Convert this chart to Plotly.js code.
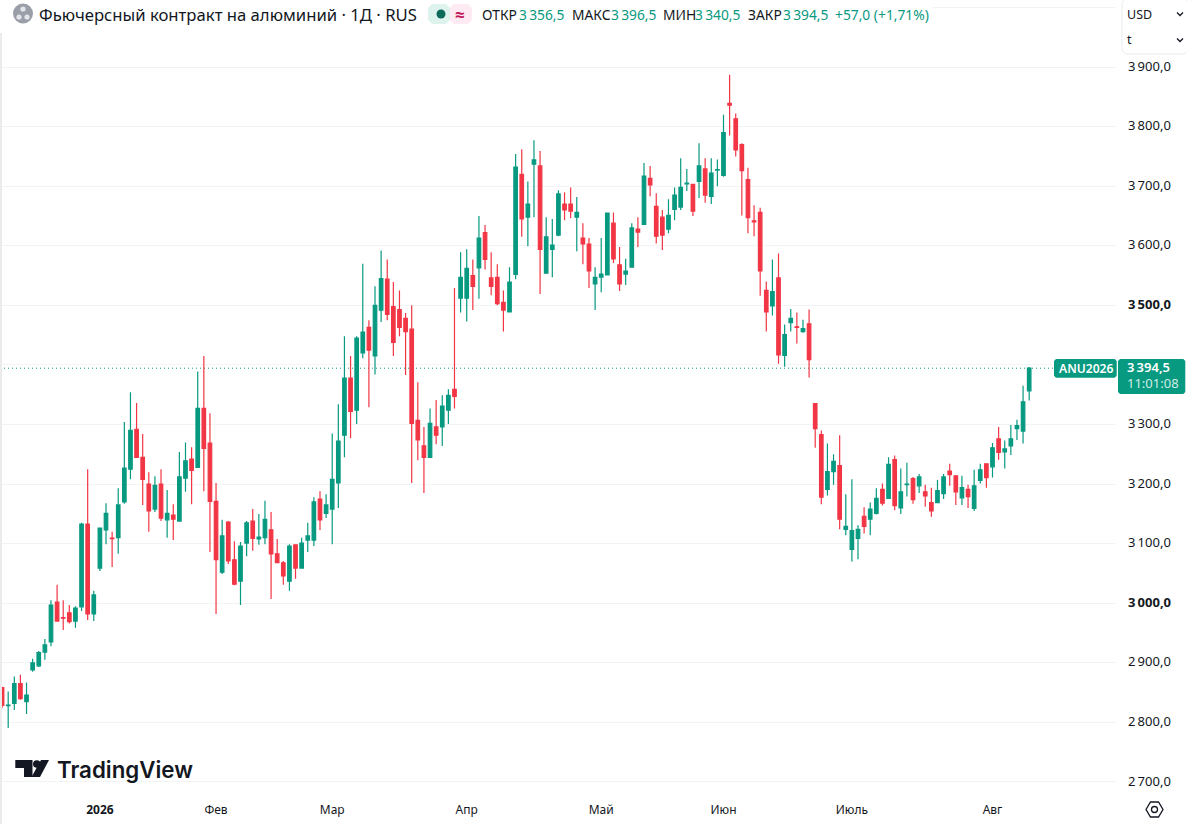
<!DOCTYPE html>
<html><head><meta charset="utf-8">
<script src="https://cdn.plot.ly/plotly-3.0.1.min.js"></script>
<style>html,body{margin:0;padding:0;background:#fff}#c{width:1187px;height:824px}</style>
</head><body><div id="c"></div>
<script>
const openVals=[2858.6,2828,2832,2865,2835,2888,2895,2918,2935,3002,
2976,2984,2970,2994,3133,2982,3059,3123,3109.5,3110,
3170,3225,3292,3245,3200,3158,3200,3140,3148,3138,
3210,3242,3228,3327,3269,3171,3052,3136,3073,3037,
3101,3138,3108,3110,3123,3083,3068,3037,3098,3059,
3106,3106,3175,3151,3158,3202,3282,3378,3324,3420,
3463,3415,3492,3544,3498,3493,3478,3460,3307,3264,
3245,3296,3296,3324,3359,3512,3512,3550,3563,3622,
3546,3547,3505,3489,3552,3720,3648,3737,3734,3554,
3594,3618,3670,3670,3648,3613,3603,3536,3547.5,3551,
3638,3568,3552.5,3564,3628,3636,3713,3666,3648,3628,
3661,3665,3704,3703,3708,3729,3683,3727,3718,3839,
3813,3770,3711,3642,3656,3525,3499,3546,3416,3471,
3464,3456,3469,3335,3283,3191,3221,3231,3124,3090.5,
3109,3146,3141,3151,3191,3176,3241,3160,3199,3209,
3197,3187,3169,3169,3184,3222,3214,3177,3191,3159,
3206,3234,3229,3276,3254,3264,3293,3289,3356.5];
const highVals=[2860,2852,2877,2880,2867,2907,2920,2940,3005,3031,
3005,2997,2995,3135,3225,3021,3126,3168,3120,3193,
3304,3354,3336,3284,3220,3213,3225,3190,3166,3254,
3270,3262,3389,3415,3319,3202,3140,3138,3104,3103,
3138,3158,3150,3172,3153,3108,3071,3099,3099,3110,
3135,3178,3188,3183,3285,3334,3448,3415,3448,3570,
3475,3532,3592,3577,3539,3525,3487,3500,3371,3296,
3327,3341,3349,3359,3529,3589,3594,3577,3650,3635,
3589,3569,3525,3564,3754,3762,3708,3777,3759,3648,
3645,3693,3690,3698,3682,3638,3613,3564,3613,3655,
3656,3598,3578,3638,3648,3739,3734,3688,3660,3678,
3698,3747,3729,3703,3772,3747,3747,3745,3820,3887,
3822,3772,3731,3668,3664,3540,3577,3587,3468,3494,
3488,3476,3493,3335,3290,3268,3250,3282,3183,3208,
3131,3161,3169,3193,3201,3245,3248,3226,3236,3212,
3217,3199,3194,3207,3217,3234,3214,3214,3199,3224,
3234,3234,3269,3296,3273,3299,3308,3365,3396.5];
const lowVals=[2824,2790.5,2821,2838,2814,2885,2893,2905,2928,2970,
2955,2966,2959,2987,2972,2970,3054,3099,3061,3083,
3167,3208,3245,3165,3120,3153,3138,3110,3106,3138,
3187,3166,3228,3188,3086,2982,3049,3066,3030,2997,
3079,3088,3098,3099,3007,3068,3031,3021,3041,3059,
3086,3096,3123,3143,3099,3160,3245,3277,3301,3411,
3329,3384,3472,3475,3415,3448,3383,3202,3240,3185,
3245,3267,3264,3301,3327,3488,3473,3492,3511,3560,
3517,3500,3456,3489,3544,3615,3599,3648,3519,3554,
3547,3616,3643,3646,3591,3569,3529,3492,3522,3551,
3571,3524,3534,3564,3598,3636,3683,3604,3593,3621,
3643,3660,3692,3650,3680,3672,3670,3700,3716,3785,
3750,3651,3621,3616,3516,3456,3483,3402,3397,3456,
3436,3454,3379,3261,3166,3181,3199,3124,3114,3070,
3074,3117,3114,3149,3164,3176,3156,3150,3179,3167,
3185,3162,3145,3169,3175,3197,3165,3165,3160,3155,
3201,3194,3211,3241,3226,3249,3274,3268,3340.5];
const closeVals=[2828.5,2829,2865,2840,2846,2900,2917,2930,2997,2970,
2975,2969,2992,3133,2982,3014,3126,3151,3108.5,3165,
3227,3290,3245,3208,3155,3198,3143,3151,3141,3212,
3239,3223,3327,3260,3171,3073,3113,3071,3032,3096,
3135,3109,3111,3141,3083,3068,3046,3096,3059,3101,
3113,3170,3140,3165,3208,3272,3378,3322,3445,3455,
3425,3500,3545,3485,3438,3463,3456,3302,3274,3245,
3302,3282,3331,3349,3347,3547,3562,3532,3613,3577,
3532,3503,3492,3539,3732,3645,3670,3744,3594,3615,
3601,3687,3660,3658,3656,3603,3558,3547,3552.5,3655,
3578,3536,3557.5,3630,3623,3717,3702,3616,3618,3651,
3685,3698,3705,3658,3734,3685,3722,3728,3790,3836,
3761,3726,3647,3640,3558,3489,3523,3417,3451,3478,
3463,3461,3409,3293,3178,3221,3238,3141,3129,3122,
3124,3129,3158,3176,3168,3233,3164,3187,3200,3174,
3212,3180,3155,3189,3212,3216,3187,3194,3179,3197,
3224,3211,3261,3253,3259,3276,3298,3338,3394.5];
const candleIndex=openVals.map((_,i)=>i);
const monthTickIndex=[16,35,54,76,98,118,139,162];
const monthTickText=['<b>2026</b>','Фев','Мар','Апр','Май','Июн','Июль','Авг'];
const priceTickVals=[2700,2800,2900,3000,3100,3200,3300,3400,3500,3600,3700,3800,3900,4000];
const priceTickText=['2\u2009700,0','2\u2009800,0','2\u2009900,0','<b>3\u2009000,0</b>','3\u2009100,0','3\u2009200,0','3\u2009300,0','','<b>3\u2009500,0</b>','3\u2009600,0','3\u2009700,0','3\u2009800,0','3\u2009900,0',''];
const lastClose=3394.5;

const GREEN='#089981',RED='#F23645',INK='#131722';
const W=1116,H=797;
const X=p=>p/W, Y=p=>1-p/H;
const FF='"Noto Sans","Open Sans",sans-serif';
function txt(text,x,y,o={}){return Object.assign({text,x:X(x),y:Y(y),xref:'paper',yref:'paper',xanchor:'left',yanchor:'middle',showarrow:false,borderpad:0,align:'left',font:{family:FF,size:o.size||13.8,color:o.color||INK,weight:o.weight||400}},o.extra||{});}
function rect(x0,y0,x1,y1,fill,line){return {type:'rect',xref:'paper',yref:'paper',x0:X(x0),x1:X(x1),y0:Y(y0),y1:Y(y1),fillcolor:fill,line:{width:line?1:0,color:line||fill},layer:'above'};}
function circ(cx,cy,r,fill,line){return {type:'circle',xref:'paper',yref:'paper',x0:X(cx-r),x1:X(cx+r),y0:Y(cy-r),y1:Y(cy+r),fillcolor:fill,line:{width:line?1.3:0,color:line||fill},layer:'above'};}
function poly(pts,fill,line,close=true){const d=pts.map((p,i)=>(i?'L':'M')+X(p[0])+','+Y(p[1])).join(' ')+(close?' Z':'');return {type:'path',xref:'paper',yref:'paper',path:d,fillcolor:fill||'rgba(0,0,0,0)',line:{width:line?1.3:0,color:line||'rgba(0,0,0,0)'},layer:'above'};}
function rrect(x0,y0,x1,y1,r,fill,line){const k=r;const pts=[[x0+k,y0],[x1-k,y0],[x1,y0+k],[x1,y1-k],[x1-k,y1],[x0+k,y1],[x0,y1-k],[x0,y0+k]];const s=poly(pts,fill,line);if(line)s.line.width=1;return s;}

const shapes=[
 rect(0,0,932,24,'#ffffff'),
 rect(0,33,2,824,'#ebebeb'),
 {type:'line',xref:'paper',yref:'y',x0:0,x1:X(1054),y0:lastClose,y1:lastClose,line:{color:GREEN,width:1,dash:'1px,3px'},layer:'below'},
 rrect(1054,359,1116.7,377.7,2,GREEN),
 rrect(1118,359,1185.3,394,2,GREEN),
 circ(23,13.5,10,'#9a9ea8'),
 circ(23,9,2.6,'#e3e5ea'),circ(19,17,2.6,'#e3e5ea'),circ(27,17,2.6,'#e3e5ea'),
 rrect(428,4,450,24,4,'#dff3ee'),
 rrect(450,4,472,24,4,'#fdeaf2'),
 circ(441,14,4.5,'#0b6b58'),
 rrect(1122,-2,1188,54,4,'#ffffff','#e9ebf0'),
 poly([[1177,12.5],[1180,15.5],[1183,12.5]],null,INK,false),
 poly([[1177,38.5],[1180,41.5],[1183,38.5]],null,INK,false),
 poly([[15.3,760],[32.5,760],[32.5,777],[24,777],[24,768],[15.3,768]],INK),
 circ(36.8,764,3.8,INK),
 poly([[41,760],[49,760],[40,777],[31.5,777]],INK),
 poly([[1146,809.5],[1150.5,802],[1158.5,802],[1163,809.5],[1158.5,817],[1150.5,817]],null,INK),
 circ(1154.5,809.5,3,'#ffffff',INK)
];
const annotations=[
 txt('Фьючерсный контракт на алюминий · 1Д · RUS',38,14,{size:16.7}),
 txt('≈',454,14,{size:17,color:'#c2185b',weight:700}),
 txt('ОТКР',481,14),txt('3\u2009356,5',518,14,{color:GREEN}),
 txt('МАКС',571,14),txt('3\u2009396,5',610,14,{color:GREEN}),
 txt('МИН',662,14),txt('3\u2009340,5',694,14,{color:GREEN}),
 txt('ЗАКР',747,14),txt('3\u2009394,5',782,14,{color:GREEN}),
 txt('+57,0 (+1,71%)',834,14,{color:GREEN}),
 txt('USD',1126,14,{size:12.5}),txt('t',1126,40,{size:12.5}),
 txt('ANU2026',1058,368.5,{size:12.1,color:'#ffffff',weight:600}),
 txt('3\u2009394,5',1126,367,{size:13,color:'#ffffff',weight:600}),
 txt('11:01:08',1126,383,{size:13,color:'#cfeee6'}),
 txt('TradingView',56,769,{size:22.3,weight:600})
];
annotations[annotations.length-1].font.family='Inter, "Noto Sans", sans-serif';

Plotly.newPlot('c',[{
 type:'candlestick',x:candleIndex,open:openVals,high:highVals,low:lowVals,close:closeVals,
 increasing:{line:{color:GREEN,width:1.2},fillcolor:GREEN},
 decreasing:{line:{color:RED,width:1.2},fillcolor:RED},
 whiskerwidth:0,showlegend:false,hoverinfo:'skip'
}],{
 width:1187,height:824,margin:{l:0,r:71,t:0,b:27,pad:0,autoexpand:false},
 paper_bgcolor:'#ffffff',plot_bgcolor:'#ffffff',showlegend:false,boxgap:0.18,dragmode:false,
 font:{family:FF,size:13,color:INK},
 xaxis:{type:'linear',range:[-0.339,182.2],rangeslider:{visible:false},showgrid:false,zeroline:false,showline:false,
  tickmode:'array',tickvals:monthTickIndex,ticktext:monthTickText,ticks:'',ticklabelstandoff:4,tickfont:{family:FF,size:12,color:INK}},
 yaxis:{side:'right',range:[2674.8,4012.5],showgrid:true,gridcolor:'#f2f3f5',gridwidth:1,zeroline:false,showline:false,
  tickmode:'array',tickvals:priceTickVals,ticktext:priceTickText,ticks:'',ticklabelstandoff:11,ticklabelshift:-1,tickfont:{family:FF,size:13,color:INK}},
 shapes,annotations
},{staticPlot:true,displayModeBar:false});
</script></body></html>
